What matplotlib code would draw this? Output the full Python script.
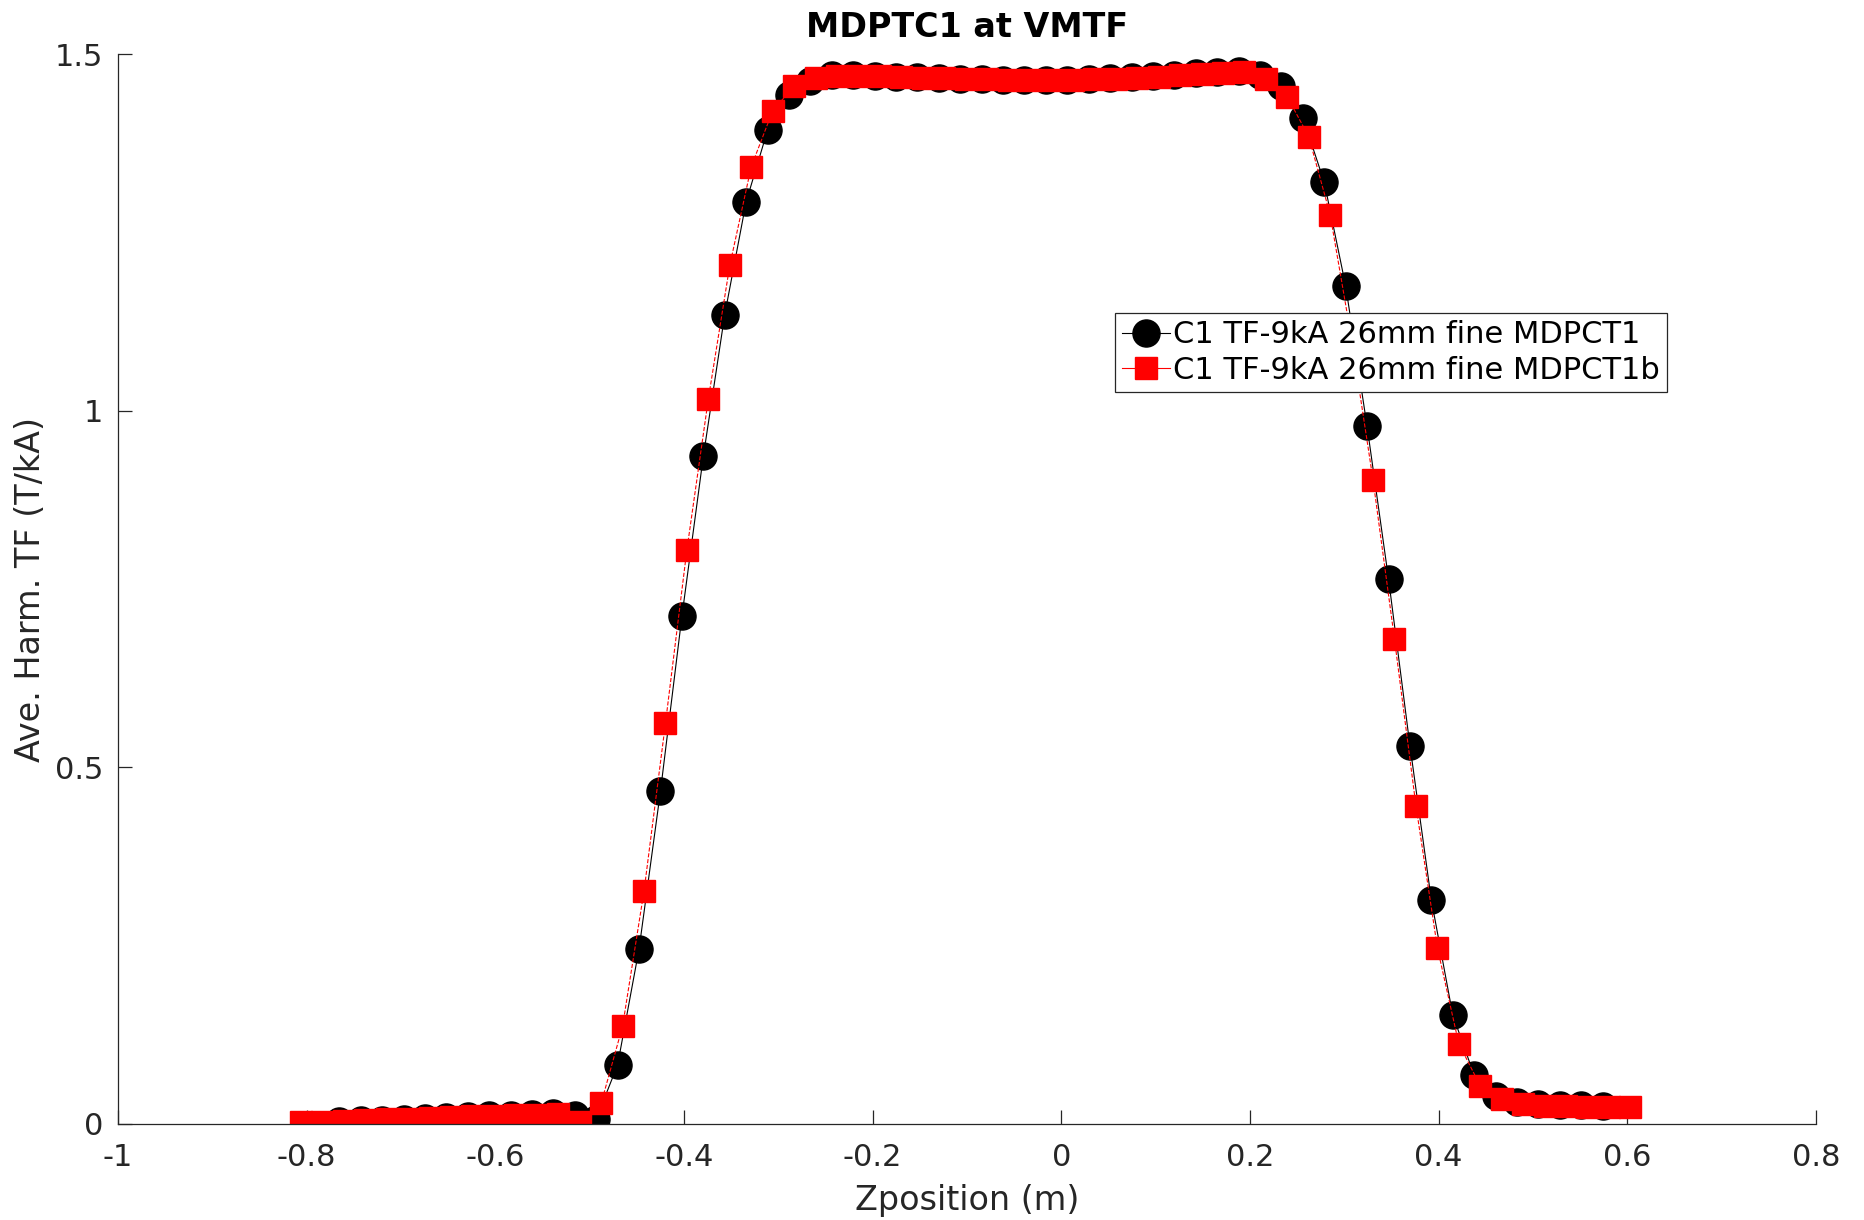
import matplotlib
matplotlib.use("Agg")
import matplotlib.pyplot as plt

plt.rcParams['font.family'] = ['DejaVu Sans']
plt.rcParams['axes.unicode_minus'] = False

# MDPCT1 scan (black circles)
z_mdpct1 = [-0.7654, -0.7427, -0.7200, -0.6973, -0.6746, -0.6519, -0.6292, -0.6065,
            -0.5838, -0.5611, -0.5384, -0.5157, -0.4930, -0.4703, -0.4476, -0.4249,
            -0.4022, -0.3795, -0.3568, -0.3341, -0.3114, -0.2887, -0.2660, -0.2433,
            -0.2206, -0.1979, -0.1752, -0.1525, -0.1298, -0.1071, -0.0844, -0.0617,
            -0.0390, -0.0163, 0.0064, 0.0291, 0.0518, 0.0745, 0.0972, 0.1199,
            0.1426, 0.1653, 0.1880, 0.2107, 0.2334, 0.2561, 0.2788, 0.3015,
            0.3242, 0.3469, 0.3696, 0.3923, 0.4150, 0.4377, 0.4604, 0.4831,
            0.5058, 0.5285, 0.5512, 0.5739]
tf_mdpct1 = [0.0035, 0.005, 0.006, 0.007, 0.008, 0.0095, 0.0105, 0.012,
             0.013, 0.0145, 0.016, 0.0125, 0.007, 0.083, 0.2455, 0.4667,
             0.7115, 0.9358, 1.1344, 1.2927, 1.3931, 1.443, 1.462, 1.4705,
             1.470, 1.4697, 1.4685, 1.4673, 1.466, 1.465, 1.4645, 1.464,
             1.4635, 1.463, 1.464, 1.465, 1.466, 1.4673, 1.4687, 1.471,
             1.4733, 1.4742, 1.4757, 1.470, 1.455, 1.411, 1.3203, 1.1748,
             0.978, 0.7646, 0.5306, 0.3142, 0.153, 0.0684, 0.0397, 0.0313,
             0.028, 0.027, 0.0265, 0.0255]

# MDPCT1b scan (red squares)
z_mdpct1b = [-0.8060, -0.7833, -0.7605, -0.7378, -0.7151, -0.6924, -0.6696, -0.6469,
             -0.6242, -0.6014, -0.5787, -0.5560, -0.5332, -0.5105, -0.4878, -0.4651,
             -0.4423, -0.4196, -0.3969, -0.3741, -0.3514, -0.3287, -0.3059, -0.2832,
             -0.2605, -0.2378, -0.2150, -0.1923, -0.1696, -0.1468, -0.1241, -0.1014,
             -0.0786, -0.0559, -0.0332, -0.0105, 0.0123, 0.0350, 0.0577, 0.0805,
             0.1032, 0.1259, 0.1487, 0.1714, 0.1941, 0.2169, 0.2396, 0.2623,
             0.2850, 0.3078, 0.3305, 0.3532, 0.3760, 0.3987, 0.4214, 0.4442,
             0.4669, 0.4896, 0.5123, 0.5351, 0.5578, 0.5805, 0.6033]
tf_mdpct1b = [0.0025, 0.003, 0.004, 0.0055, 0.0065, 0.0075, 0.0085, 0.0095,
              0.0105, 0.011, 0.012, 0.013, 0.014, 0.003, 0.029, 0.137,
              0.327, 0.562, 0.805, 1.017, 1.204, 1.342, 1.4206, 1.455,
              1.466, 1.4695, 1.4698, 1.469, 1.468, 1.467, 1.466, 1.465,
              1.4645, 1.464, 1.4635, 1.4635, 1.4638, 1.4645, 1.4655, 1.467,
              1.4685, 1.470, 1.472, 1.4735, 1.4745, 1.465, 1.440, 1.3843,
              1.275, 1.10, 0.903, 0.680, 0.446, 0.2473, 0.1126, 0.0535,
              0.035, 0.028, 0.0255, 0.025, 0.0245, 0.0245, 0.0245]

xticks = [-1, -0.8, -0.6, -0.4, -0.2, 0, 0.2, 0.4, 0.6, 0.8]
xtick_labels = ['-1', '-0.8', '-0.6', '-0.4', '-0.2', '0', '0.2', '0.4', '0.6', '0.8']
yticks = [0, 0.5, 1, 1.5]
ytick_labels = ['0', '0.5', '1', '1.5']

axis_gray = '#262626'

fig = plt.figure(figsize=(18.64, 12.20), dpi=100)
ax = fig.add_axes([0.0633, 0.0787, 0.9109, 0.877])

ax.plot(z_mdpct1, tf_mdpct1, '-o', color='black', lw=0.8,
        markersize=19.5, markerfacecolor='black', markeredgecolor='black',
        markeredgewidth=1.0, label='C1 TF-9kA 26mm fine MDPCT1')
ax.plot(z_mdpct1b, tf_mdpct1b, '--s', color='red', lw=0.8,
        markersize=16.5, markerfacecolor='red', markeredgecolor='red',
        markeredgewidth=1.0, label='C1 TF-9kA 26mm fine MDPCT1b')

ax.set_xlim(-1, 0.8)
ax.set_ylim(0, 1.5)
ax.set_xticks(xticks)
ax.set_xticklabels(xtick_labels)
ax.set_yticks(yticks)
ax.set_yticklabels(ytick_labels)

for side in ['top', 'right']:
    ax.spines[side].set_visible(False)
for side in ['left', 'bottom']:
    ax.spines[side].set_color(axis_gray)
    ax.spines[side].set_linewidth(0.9)

ax.tick_params(direction='in', length=10, width=0.9, colors=axis_gray,
               labelsize=22, labelcolor=axis_gray)
ax.tick_params(axis='x', pad=14)
ax.tick_params(axis='y', pad=10.5)

ax.set_title('MDPTC1 at VMTF', fontsize=24, fontweight='bold', pad=12)
ax.set_xlabel('Zposition (m)', fontsize=24, color=axis_gray, va='center')
ax.set_ylabel('Ave. Harm. TF (T/kA)', fontsize=24, color=axis_gray, va='center')
ax.xaxis.set_label_coords(0.5, -0.0712)
ax.yaxis.set_label_coords(-0.0518, 0.5)

leg = ax.legend(loc='upper left', bbox_to_anchor=(0.5872, 0.758), borderaxespad=0,
                fontsize=22, handlelength=1.57, handletextpad=0.1,
                borderpad=0.24, labelspacing=0.22, fancybox=False, framealpha=1)
leg.get_frame().set_edgecolor(axis_gray)
leg.get_frame().set_linewidth(0.9)
for txt in leg.get_texts():
    txt.set_color('black')
# the legend sample line for the red series is drawn solid
leg.get_lines()[1].set_linestyle('-')

fig.savefig('out.png', dpi=100)
